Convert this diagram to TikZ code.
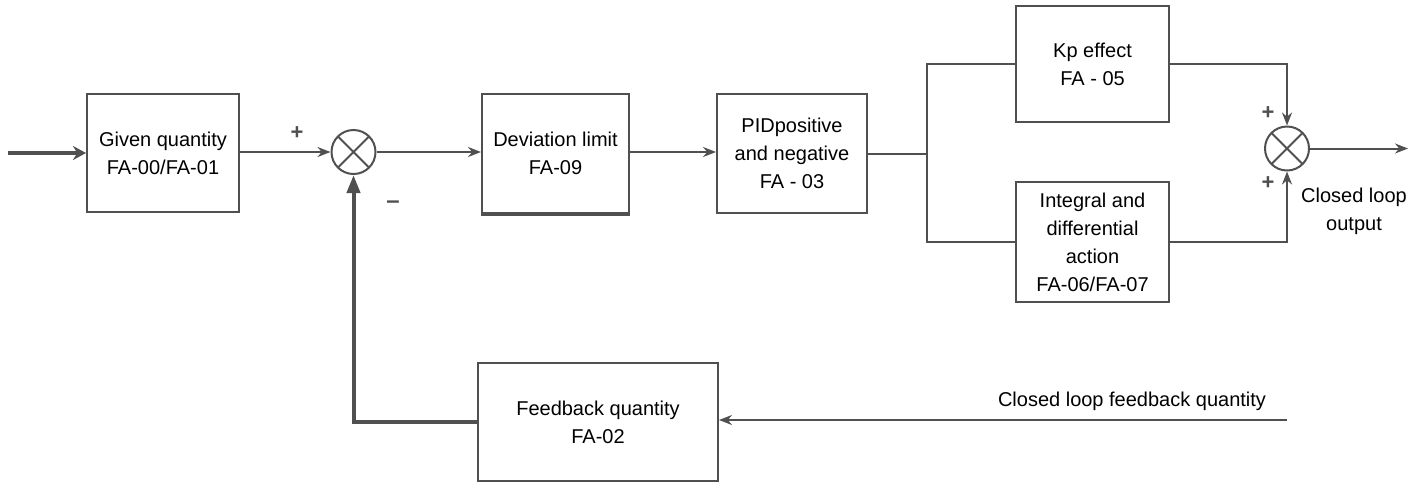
\documentclass[tikz,border=0pt]{standalone}
\usepackage{fontspec}
\setmainfont{Liberation Sans}
\usetikzlibrary{arrows.meta,calc}
\definecolor{ln}{HTML}{505050}
\tikzset{
  blk/.style={draw=ln, line width=1pt, align=center, inner sep=0pt,
    font=\fontsize{10}{14}\selectfont},
  sumj/.style={draw=ln, line width=1pt, circle, minimum size=22pt, inner sep=0pt,
    path picture={\draw[ln, line width=1pt]
      (path picture bounding box.south west) -- (path picture bounding box.north east)
      (path picture bounding box.north west) -- (path picture bounding box.south east);}},
  wire/.style={draw=ln, line width=1pt},
  arr/.style={wire, -{Stealth[length=6.5pt,width=5pt]}},
  thickarr/.style={draw=ln, line width=2pt, -{Stealth[length=6.5pt,width=7pt]}},
  bigarr/.style={draw=ln, line width=2pt, -{Triangle[length=9pt,width=6.5pt]}},
  lbl/.style={font=\fontsize{10}{14}\selectfont, align=center, inner sep=0pt},
  sgn/.style={font=\fontsize{11}{12}\selectfont\bfseries, inner sep=0pt, text=ln}
}
\begin{document}
\begin{tikzpicture}[x=0.5pt,y=-0.5pt]
\useasboundingbox (0,0) rectangle (1422,483);
% blocks
\node[blk, minimum width=76pt, minimum height=59pt] (given) at (163,153) {Given quantity\\FA-00/FA-01};
\node[blk, minimum width=73.5pt, minimum height=59.5pt] (dev) at (555.5,153.5) {Deviation limit\\FA-09};
\node[blk, minimum width=75pt, minimum height=59.5pt] (pid) at (792,153.5) {PIDpositive\\and negative\\FA - 03};
\node[blk, minimum width=76.5pt, minimum height=58pt] (kp) at (1092.5,64) {Kp effect\\FA - 05};
\node[blk, minimum width=76.5pt, minimum height=60pt] (integ) at (1092.5,242) {Integral and\\differential\\action\\FA-06/FA-07};
\node[blk, minimum width=120pt, minimum height=59pt] (fb) at (598,422) {Feedback quantity\\FA-02};
% thick bottom edge of deviation box
\draw[ln, line width=2pt] (dev.south west) -- (dev.south east);
% summing junctions
\node[sumj] (s1) at (353.5,152) {};
\node[sumj] (s2) at (1287,148.5) {};
% coordinates
\coordinate (in) at (8,153);
\coordinate (split) at (927,153.5);
\coordinate (fbin) at (1287,420);
\coordinate (out) at (1408,148.5);
% connectors
\draw[thickarr] (in) -- (given.west);
\draw[arr] (given.east |- s1.west) -- (s1.west);
\draw[arr] (s1.east) -- (dev.west |- s1.east);
\draw[arr] (dev.east |- s1.east) -- (pid.west |- s1.east);
\draw[wire] (pid.east) -- (split);
\draw[wire] (kp.west) -| (split) |- (integ.west);
\draw[arr] (kp.east) -| (s2.north);
\draw[arr] (integ.east) -| (s2.south);
\draw[arr] (s2.east) -- (out);
\draw[arr] (fbin) -- (fb.east |- fbin);
\draw[bigarr] (fb.west) -| (s1.south);
% signs
\node[sgn] at (297,133) {+};
\node[sgn] at (393,205) {\fontsize{12}{12}\selectfont –};
\node[sgn] at (1268,113) {+};
\node[sgn] at (1268,183) {+};
% labels
\node[lbl] (outlbl) at (1354,211) {Closed loop\\output};
\node[lbl] (fblbl) at (1132,401) {Closed loop feedback quantity};
\end{tikzpicture}
\end{document}
